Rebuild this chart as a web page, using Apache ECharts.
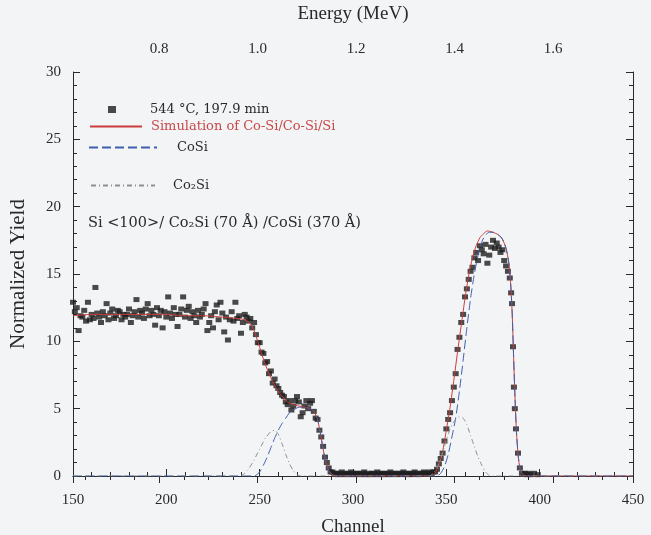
<!DOCTYPE html>
<html>
<head>
<meta charset="utf-8">
<script src="https://cdn.jsdelivr.net/npm/echarts@6/dist/echarts.min.js"></script>
<style>html,body{margin:0;padding:0;background:#f3f4f6;}#c{width:651px;height:535px;}</style>
</head>
<body>
<div id="c"></div>
<script>
// ---- measured spectrum (channel, normalized yield) ----
const plateau = [[150,12.9],[151,12.2],[152,12.5],[153,10.8],[154,11.9],[155,11.8],[156,12.3],[157,11.5],[158,12.9],[159,11.6],[160,12.0],[161,11.7],[162,14.0],[163,12.1],[164,11.8],[165,11.4],[166,12.2],[167,11.9],[168,12.8],[169,11.6],[170,12.1],[171,12.4],[172,11.7],[173,11.9],[174,12.3],[175,12.2],[176,11.6],[177,12.0],[178,11.8],[179,12.0],[180,12.4],[181,11.4],[182,11.9],[183,12.2],[184,13.1],[185,11.8],[186,12.3],[187,12.1],[188,11.7],[189,12.4],[190,12.8],[191,11.9],[192,12.3],[193,12.0],[194,11.2],[195,12.5],[196,11.9],[197,12.3],[198,11.0],[199,12.2],[200,11.8],[201,13.3],[202,12.1],[203,11.7],[204,12.5],[205,12.0],[206,11.1],[207,12.0],[208,12.4],[209,13.3],[210,11.8],[211,12.3],[212,12.6],[213,11.7],[214,12.2],[215,11.9],[216,11.4],[217,12.3],[218,11.8],[219,12.0],[220,12.4],[221,12.8],[222,10.8],[223,11.4],[224,11.9],[225,11.0],[226,12.2],[227,12.7],[228,11.6],[229,12.9],[230,12.1],[231,10.7],[232,11.8],[233,10.1],[234,11.6],[235,12.2],[236,11.5],[237,12.9],[238,11.7],[239,11.9],[240,10.6],[241,11.4],[242,12.0],[243,11.8],[244,11.5],[245,11.7],[246,11.0]];
const edge = [[247,11.4],[248,10.5],[249,9.9],[250,9.9],[251,9.2],[252,9.1],[253,8.4],[254,8.5],[255,7.6],[256,7.8],[257,6.9],[258,7.2],[259,6.7],[260,6.5],[261,6.2],[262,6.0],[263,5.9],[264,5.5],[265,5.3],[266,5.6],[267,4.9],[268,5.2],[269,5.6],[270,5.9],[271,5.5],[272,4.4],[273,4.7],[274,5.2],[275,5.6],[276,5.0],[277,5.4],[278,5.6],[279,4.8],[280,4.3],[281,4.2],[282,3.4],[283,2.9],[284,2.2],[285,1.4],[286,1.0],[287,0.6],[288,0.3],[289,0.3],[290,0.2]];
const baseline = [[291,0.2],[292,0.1],[293,0.2],[294,0.3],[295,0.1],[296,0.2],[297,0.2],[298,0.1],[299,0.3],[300,0.2],[301,0.1],[302,0.2],[303,0.2],[304,0.1],[305,0.2],[306,0.3],[307,0.1],[308,0.2],[309,0.1],[310,0.2],[311,0.2],[312,0.1],[313,0.3],[314,0.2],[315,0.1],[316,0.2],[317,0.2],[318,0.1],[319,0.2],[320,0.3],[321,0.1],[322,0.2],[323,0.2],[324,0.1],[325,0.2],[326,0.2],[327,0.3],[328,0.1],[329,0.2],[330,0.2],[331,0.1],[332,0.2],[333,0.3],[334,0.2],[335,0.1],[336,0.2],[337,0.2],[338,0.3],[339,0.2],[340,0.2],[341,0.3],[342,0.2],[343,0.3]];
const peak = [[344,0.3],[345,0.5],[346,0.9],[347,1.3],[348,1.7],[349,2.6],[350,3.5],[351,4.2],[352,4.7],[353,5.6],[354,6.6],[355,7.6],[356,9.4],[357,10.3],[358,11.4],[359,12.0],[360,13.3],[361,13.9],[362,14.6],[363,15.2],[364,15.5],[365,16.2],[366,16.6],[367,16.0],[368,17.1],[369,16.8],[370,16.5],[371,17.2],[372,15.8],[373,16.4],[374,17.0],[375,17.5],[376,16.9],[377,17.3],[378,17.0],[379,16.6],[380,16.8],[381,16.0],[382,15.6],[383,15.2],[384,14.7],[384.7,13.6],[385.2,12.8],[385.7,9.6],[386.2,6.6],[386.7,5.0],[387.3,3.5],[388.4,1.7],[389.4,0.6],[390.5,0.2]];
const tail = [[392,0.2],[393,0.1],[394,0.2],[395,0.1],[397,0.2],[399,0.1]];

// ---- simulations ----
const simTotal = [[150,11.9],[160,12.0],[170,12.0],[180,12.0],[190,12.0],[200,12.0],[210,11.9],[220,11.9],[230,11.8],[238,11.7],[242,11.6],[245,11.3],[247,10.8],[249,10.0],[251,9.1],[253,8.3],[255,7.6],[257,7.0],[259,6.5],[261,6.1],[263,5.8],[265,5.5],[268,5.3],[271,5.2],[274,5.1],[277,5.0],[279,4.8],[281,4.2],[282.5,3.2],[284,2.0],[285.5,1.0],[287,0.4],[289,0.1],[292,0],[342,0],[344,0.2],[346,0.8],[348,1.8],[350,3.4],[352,5.1],[354,7.1],[356,9.2],[358,11.2],[360,13.2],[362,14.9],[364,16.2],[366,17.1],[368,17.7],[370,18.0],[372,18.2],[375,18.1],[378,17.9],[380,17.6],[382,16.9],[383.5,15.8],[384.5,14.2],[385.3,12.0],[386,9.0],[386.8,5.8],[387.6,3.2],[388.5,1.5],[389.5,0.5],[391,0.1],[393,0],[450,0]];
const simCoSi = [[150,0],[246,0],[248,0.05],[250,0.3],[252,0.8],[254,1.4],[256,2.1],[258,2.8],[260,3.4],[262,3.9],[264,4.3],[266,4.7],[268,4.9],[271,5.1],[274,5.1],[277,5.0],[279,4.8],[281,4.2],[282.5,3.2],[284,2.0],[285.5,1.0],[287,0.4],[289,0.1],[292,0],[345,0],[347,0.2],[349,0.7],[351,1.6],[353,2.9],[355,4.3],[357,6.3],[359,8.6],[361,11.0],[363,13.2],[365,15.0],[367,16.4],[369,17.4],[371,17.9],[373,18.1],[375,18.1],[378,17.9],[380,17.6],[382,16.9],[383.5,15.8],[384.5,14.2],[385.3,12.0],[386,9.0],[386.8,5.8],[387.6,3.2],[388.5,1.5],[389.5,0.5],[391,0.1],[393,0],[450,0]];
const simCo2Si = [[150,0],[238,0],[241,0.1],[244,0.5],[247,1.2],[250,2.0],[253,2.8],[256,3.3],[258,3.4],[260,3.1],[262,2.4],[264,1.6],[266,0.9],[268,0.4],[270,0.1],[272,0],[341,0],[343,0.2],[345,0.6],[347,1.3],[349,2.2],[351,3.1],[353,3.8],[355,4.2],[357,4.4],[359,4.3],[361,3.8],[363,3.0],[365,2.2],[367,1.4],[369,0.8],[371,0.3],[373,0.05],[375,0],[450,0]];

// ---- axes ----
const channelRange = [150, 450];
const energyRange = [0.625, 1.762];
const yieldRange = [0, 30];

const names = ['544 \u00B0C, 197.9 min', 'Simulation of Co-Si/Co-Si/Si', 'CoSi', 'Co\u2082Si'];
const sampleText = 'Si <100>/ Co\u2082Si (70 \u00C5) /CoSi (370 \u00C5)';

const FONT = 'Liberation Serif';
const WFONT = 'DejaVu Serif';
const ink = '#2a2a2a';
const chart = echarts.init(document.getElementById('c'));
const axisCommon = {
  axisLine: {show: true, lineStyle: {color: ink, width: 1}},
  axisTick: {show: true, inside: true, length: 7, lineStyle: {color: ink}},
  minorTick: {show: true, length: 4, lineStyle: {color: ink}},
  splitLine: {show: false},
  axisLabel: {color: ink, fontFamily: FONT, fontSize: 15}
};
const legendBase = {orient: 'horizontal', textStyle: {fontFamily: WFONT, fontSize: 13, color: ink}, selectedMode: false, padding: 0,
  itemStyle: {opacity: 0, borderWidth: 0}};
chart.setOption({
  backgroundColor: '#f3f4f6',
  animation: false,
  grid: {left: 73, right: 18, top: 72, bottom: 59, outerBoundsMode: 'none', containLabel: false},
  xAxis: [
    Object.assign({}, axisCommon, {
      type: 'value', position: 'bottom', min: channelRange[0], max: channelRange[1], interval: 50,
      minorTick: Object.assign({}, axisCommon.minorTick, {splitNumber: 5}),
      axisLabel: Object.assign({}, axisCommon.axisLabel, {margin: 17}),
      name: 'Channel', nameLocation: 'middle', nameGap: 42,
      nameTextStyle: {fontFamily: FONT, fontSize: 19, color: ink}
    }),
    Object.assign({}, axisCommon, {
      type: 'value', position: 'top', min: energyRange[0], max: energyRange[1], splitNumber: 5,
      minorTick: Object.assign({}, axisCommon.minorTick, {splitNumber: 4}),
      axisLabel: Object.assign({}, axisCommon.axisLabel, {margin: 15, showMinLabel: false, showMaxLabel: false,
        formatter: v => v.toFixed(1)}),
      name: 'Energy (MeV)', nameLocation: 'middle', nameGap: 48,
      nameTextStyle: {fontFamily: FONT, fontSize: 19, color: ink}
    })
  ],
  yAxis: [
    Object.assign({}, axisCommon, {
      type: 'value', position: 'left', min: yieldRange[0], max: yieldRange[1], interval: 5,
      minorTick: Object.assign({}, axisCommon.minorTick, {splitNumber: 5}),
      axisLabel: Object.assign({}, axisCommon.axisLabel, {margin: 12}),
      name: 'Normalized Yield', nameLocation: 'middle', nameGap: 44, nameRotate: 90,
      nameTextStyle: {fontFamily: FONT, fontSize: 21, color: ink}
    }),
    Object.assign({}, axisCommon, {
      type: 'value', position: 'right', min: yieldRange[0], max: yieldRange[1], interval: 5,
      minorTick: Object.assign({}, axisCommon.minorTick, {splitNumber: 5}),
      axisLabel: {show: false}
    })
  ],
  legend: [
    Object.assign({}, legendBase, {data: [{name: names[0], icon: 'rect'}], left: 108, top: 103, itemWidth: 8, itemHeight: 7,
      itemStyle: {},
      textStyle: Object.assign({}, legendBase.textStyle, {padding: [0, 0, 0, 29]})}),
    Object.assign({}, legendBase, {data: [names[1]], left: 89, top: 120, itemWidth: 52, itemHeight: 10,
      textStyle: Object.assign({}, legendBase.textStyle, {color: '#c84848', padding: [0, 0, 0, 4]})}),
    Object.assign({}, legendBase, {data: [names[2]], left: 88, top: 141, itemWidth: 68, itemHeight: 10,
      textStyle: Object.assign({}, legendBase.textStyle, {padding: [0, 0, 0, 15]})}),
    Object.assign({}, legendBase, {data: [names[3]], left: 90, top: 179, itemWidth: 64, itemHeight: 10,
      textStyle: Object.assign({}, legendBase.textStyle, {padding: [0, 0, 0, 13]})})
  ],
  graphic: [{
    type: 'text', left: 88, top: 216,
    style: {text: sampleText, fontFamily: WFONT, fontSize: 14.5, fill: ink}
  }],
  series: [
    {name: names[0], type: 'scatter', xAxisIndex: 0, yAxisIndex: 0, symbol: 'rect', symbolSize: [6, 5],
      itemStyle: {color: '#1e1e1e'}, data: plateau.concat(edge, baseline, peak, tail), z: 2},
    {name: names[1], type: 'line', xAxisIndex: 0, yAxisIndex: 0, symbol: 'none', smooth: 0.2,
      lineStyle: {color: '#cc3b3b', width: 1}, itemStyle: {color: '#cc3b3b'}, data: simTotal, z: 3},
    {name: names[2], type: 'line', xAxisIndex: 0, yAxisIndex: 0, symbol: 'none', smooth: 0.2,
      lineStyle: {color: '#3f5fae', width: 1, type: [9, 4]}, itemStyle: {color: '#3f5fae'}, data: simCoSi, z: 4},
    {name: names[3], type: 'line', xAxisIndex: 0, yAxisIndex: 0, symbol: 'none', smooth: 0.2,
      lineStyle: {color: '#8f8f8f', width: 1, type: [5, 3, 1, 3]}, itemStyle: {color: '#8f8f8f'}, data: simCo2Si, z: 4}
  ]
});
</script>
</body>
</html>
